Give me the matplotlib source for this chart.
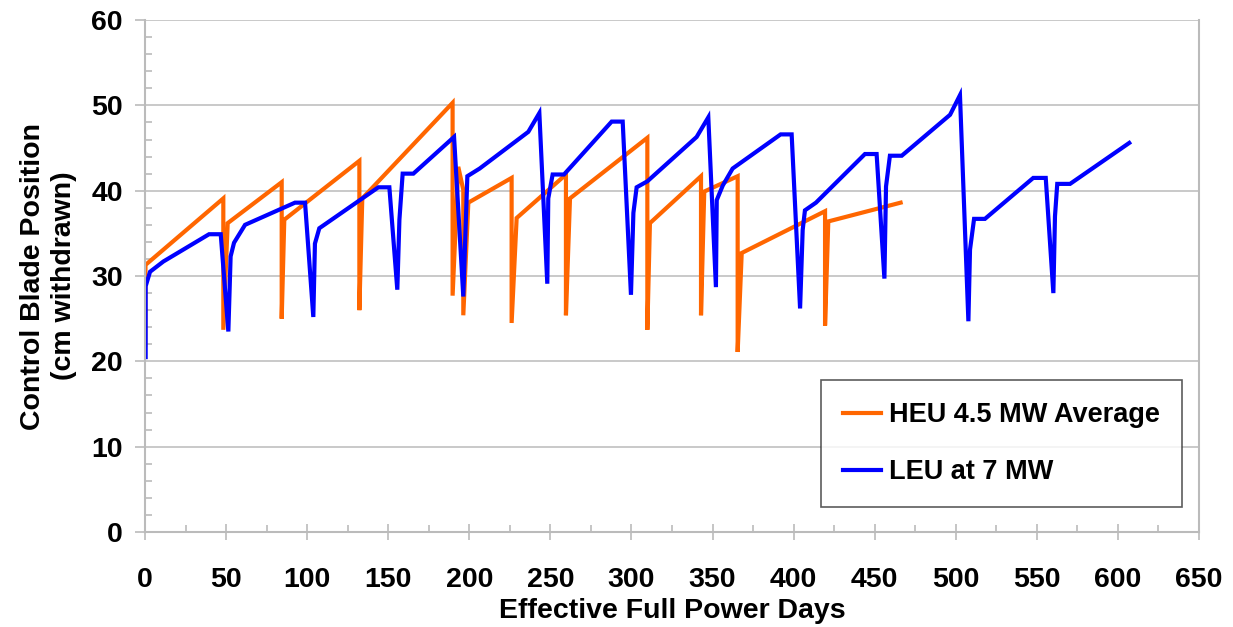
import matplotlib
matplotlib.use("Agg")
import matplotlib.pyplot as plt
from matplotlib.ticker import MultipleLocator

plt.rcParams["font.family"] = ["Liberation Sans", "DejaVu Sans"]
plt.rcParams["font.weight"] = "bold"

# HEU 4.5 MW average: (EFPD, cm withdrawn)
heu_days = [0, 0, 0.3, 48.3, 48.3, 51.0, 84.3, 84.3, 85.9, 132.2, 132.2, 134.0,
            189.7, 189.7, 193.2, 196.3, 196.3, 199.4, 226.1, 226.1, 229.2,
            259.6, 259.6, 262.1, 309.8, 309.8, 311.4, 342.9, 342.9, 344.9,
            365.5, 365.5, 368.0, 419.4, 419.4, 421.4, 466.0]
heu_pos = [26.0, 21.7, 31.3, 39.1, 23.7, 36.2, 41.0, 25.0, 36.6, 43.5, 26.0, 39.1,
           50.3, 27.7, 42.8, 40.1, 25.4, 38.6, 41.5, 24.5, 36.8,
           41.9, 25.4, 39.1, 46.2, 23.7, 36.2, 41.7, 25.4, 39.9,
           41.7, 21.1, 32.7, 37.6, 24.2, 36.4, 38.6]

# LEU at 7 MW
leu_days = [0.4, 0.4, 3.1, 11.3, 39.5, 46.7, 51.4, 52.8, 54.9, 61.7, 92.5, 98.7,
            103.8, 104.8, 107.5, 143.9, 150.7, 155.6, 156.9, 158.9, 165.5,
            190.6, 196.3, 198.8, 206.4, 236.4, 243.2, 248.1, 248.7, 251.4,
            258.4, 287.8, 294.6, 299.7, 301.2, 303.2, 309.8, 340.2, 347.4,
            352.1, 352.6, 356.3, 362.4, 392.0, 398.8, 404.0, 405.6, 407.0,
            413.8, 444.0, 451.2, 456.0, 457.0, 459.4, 466.7, 496.5, 502.6,
            507.8, 508.8, 511.3, 518.0, 547.8, 555.5, 560.2, 561.2, 562.6,
            570.5, 607.0]
leu_pos = [20.5, 28.8, 30.5, 31.7, 34.9, 34.9, 23.5, 32.3, 33.9, 36.0, 38.6, 38.6,
           25.2, 33.8, 35.6, 40.4, 40.4, 28.4, 36.6, 42.0, 42.0,
           46.3, 27.6, 41.7, 42.6, 46.9, 49.1, 29.1, 39.1, 41.9,
           41.9, 48.1, 48.1, 27.8, 37.4, 40.4, 41.1, 46.3, 48.6,
           28.7, 38.9, 40.6, 42.6, 46.6, 46.6, 26.2, 35.4, 37.7,
           38.6, 44.3, 44.3, 29.7, 40.5, 44.1, 44.1, 48.9, 51.2,
           24.7, 33.1, 36.7, 36.7, 41.5, 41.5, 28.0, 37.0, 40.8,
           40.8, 45.6]

fig = plt.figure(figsize=(12.33, 6.27), dpi=100)
ax = fig.add_axes([0.1176, 0.1515, 0.8548, 0.8165])

ax.plot(heu_days, heu_pos, color="#FF6600", lw=3, label="HEU 4.5 MW Average",
        solid_joinstyle="miter")
ax.plot(leu_days, leu_pos, color="#0000FF", lw=3, label="LEU at 7 MW",
        solid_joinstyle="miter")

ax.set_xlim(0, 650)
ax.set_ylim(0, 60)
ax.xaxis.set_major_locator(MultipleLocator(50))
ax.xaxis.set_minor_locator(MultipleLocator(25))
ax.yaxis.set_major_locator(MultipleLocator(10))
ax.yaxis.set_minor_locator(MultipleLocator(2))
ax.grid(axis="y", which="major", color="#C0C0C0", lw=1.2)
ax.set_axisbelow(True)

for sp in ax.spines.values():
    sp.set_color("#BBBBBB")
    sp.set_linewidth(1.5)
ax.spines["top"].set_visible(False)

ax.tick_params(axis="x", which="major", direction="inout", length=12, width=1.2,
               color="#BBBBBB", pad=19, labelsize=20.5)
ax.tick_params(axis="x", which="minor", direction="in", length=5, width=1.2,
               color="#BBBBBB")
ax.tick_params(axis="y", which="major", direction="out", length=7, width=1.2,
               color="#BBBBBB", pad=9, labelsize=20.5)
ax.tick_params(axis="y", which="minor", direction="in", length=5, width=1.2,
               color="#BBBBBB")

ax.set_xlabel("Effective Full Power Days", fontsize=20.5, fontweight="bold", labelpad=4)
ax.set_ylabel("Control Blade Position\n(cm withdrawn)", fontsize=20.5,
              fontweight="bold", labelpad=10, linespacing=1.25)

leg = ax.legend(loc="lower right", bbox_to_anchor=(0.9835, 0.049), fontsize=19.5,
                frameon=True, fancybox=False, handlelength=1.4, handletextpad=0.3,
                borderpad=0.8, labelspacing=1.15, borderaxespad=0)
leg.get_frame().set_edgecolor("#333333")
leg.get_frame().set_linewidth(1.2)
for t in leg.get_texts():
    t.set_fontweight("bold")

fig.savefig("out.png", dpi=100)
